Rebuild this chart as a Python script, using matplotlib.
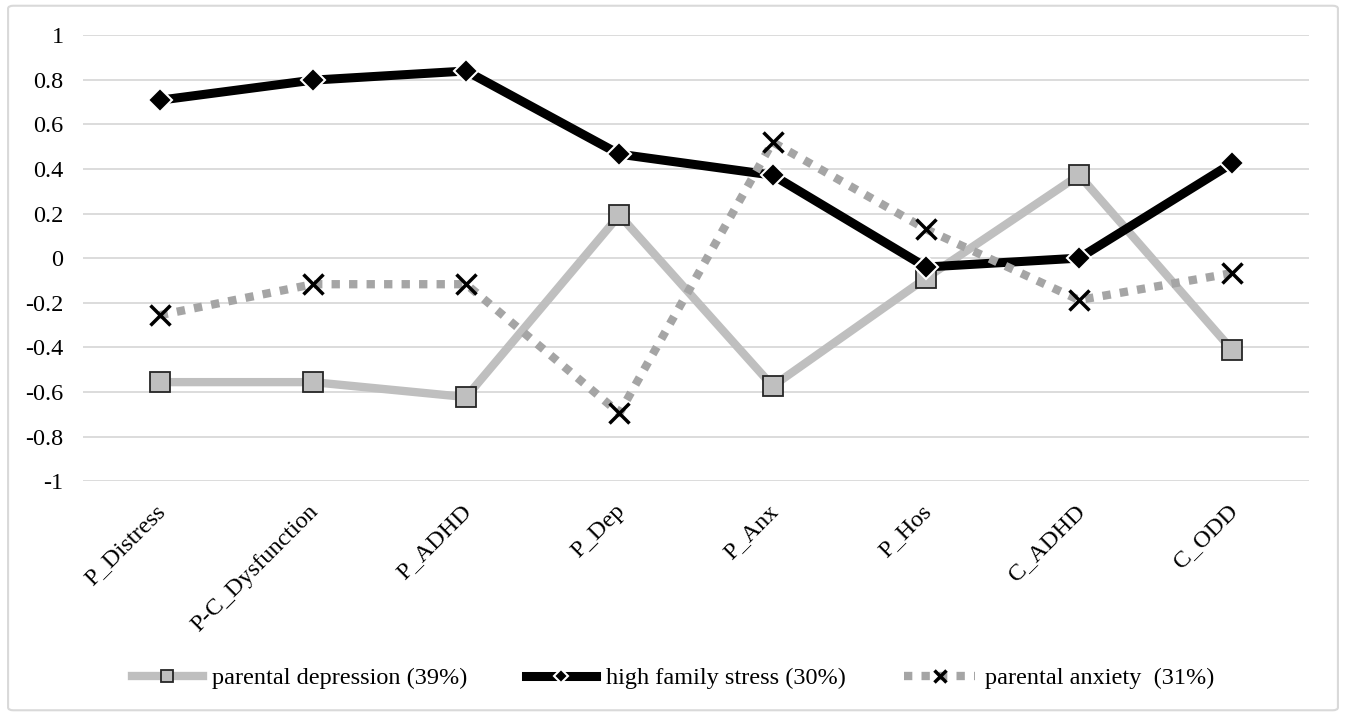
import matplotlib.pyplot as plt
from matplotlib.patches import FancyBboxPatch
from matplotlib.transforms import ScaledTranslation

categories = ['P_Distress', 'P-C_Dysfunction', 'P_ADHD', 'P_Dep', 'P_Anx', 'P_Hos', 'C_ADHD', 'C_ODD']
depression = [-0.556, -0.556, -0.623, 0.193, -0.574, -0.09, 0.372, -0.413]
family_stress = [0.708, 0.798, 0.839, 0.466, 0.372, -0.04, 0.0, 0.426]
anxiety = [-0.256, -0.117, -0.117, -0.695, 0.52, 0.13, -0.188, -0.067]
labels = ['parental depression (39%)', 'high family stress (30%)', 'parental anxiety  (31%)']

plt.rcParams['font.family'] = ['Liberation Serif', 'DejaVu Serif']

fig = plt.figure(figsize=(13.46, 7.16), dpi=100)
ax = fig.add_axes([0.0617, 0.328, 0.9108, 0.623])

# outer frame
fig.patches.append(FancyBboxPatch((0.006, 0.008), 0.988, 0.984, boxstyle='round,pad=0,rounding_size=0.004',
                                  transform=fig.transFigure, fill=False, edgecolor='#d9d9d9', linewidth=1.5))

x = list(range(len(categories)))
ax.plot(x, depression, '-', color='#bfbfbf', lw=6, marker='s', ms=15,
        mfc='#bfbfbf', mec='#262626', mew=1.3, label=labels[0], zorder=3)
ax.plot(x, family_stress, '-', color='black', lw=6.5, marker='D', ms=12,
        mfc='black', mec='white', mew=1.5, label=labels[1], zorder=4)
ax.plot(x, anxiety, color='#a5a5a5', lw=6, dashes=(1, 1.1), marker='x', ms=15,
        mec='black', mew=2.5, label=labels[2], zorder=5, dash_capstyle='butt')

ax.set_xlim(-0.5, len(categories) - 0.5)
ax.set_ylim(-1, 1)
ax.set_yticks([-1, -0.8, -0.6, -0.4, -0.2, 0, 0.2, 0.4, 0.6, 0.8, 1])
ax.set_yticklabels(['-1', '-0.8', '-0.6', '-0.4', '-0.2', '0', '0.2', '0.4', '0.6', '0.8', '1'])
ax.set_xticks(x)
ax.set_xticklabels(categories, rotation=45, ha='right', rotation_mode='anchor')
ax.tick_params(axis='both', length=0, labelsize=17.5)
ax.tick_params(axis='y', pad=14)
ax.tick_params(axis='x', pad=14)
shift = ScaledTranslation(-5 / 100, 0, fig.dpi_scale_trans)
for lab in ax.get_xticklabels():
    lab.set_transform(lab.get_transform() + shift)
ax.grid(axis='y', color='#d9d9d9', lw=1.3)
ax.set_axisbelow(True)
for s in ax.spines.values():
    s.set_visible(False)

fig.legend(loc='center', bbox_to_anchor=(0.5, 0.053), ncol=3, frameon=False, fontsize=17.5,
           handlelength=2.9, columnspacing=2.4, handletextpad=0.4, markerscale=0.6)

fig.savefig('out.png', dpi=100)
